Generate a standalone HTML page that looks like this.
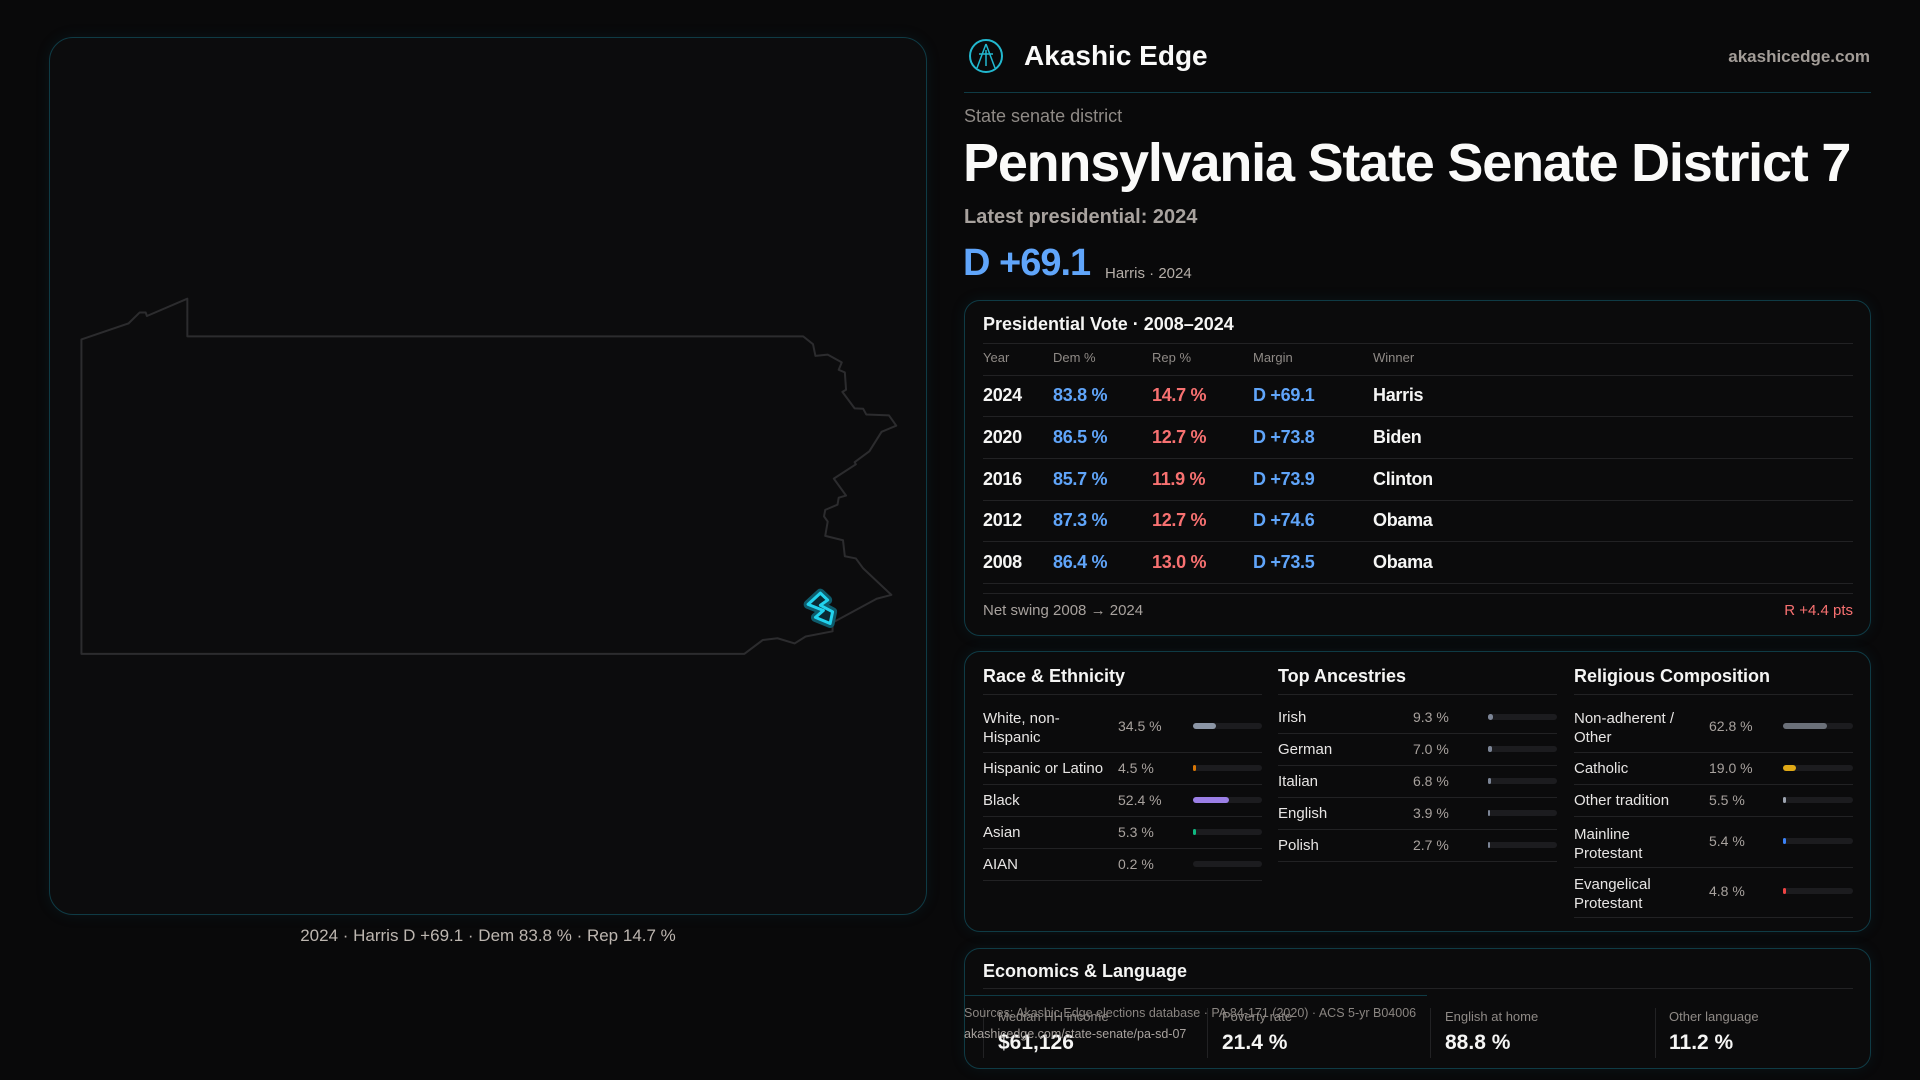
<!DOCTYPE html>
<html><head><meta charset="utf-8"><style>
*{margin:0;padding:0;box-sizing:border-box}
body{width:1920px;height:1080px;background:#09090a;font-family:"Liberation Sans",sans-serif;position:relative;overflow:hidden;color:#f5f5f4}
.t{position:absolute;white-space:nowrap;line-height:1}
.card{position:absolute;border:1px solid #0f3b45;border-radius:16px;background:#0b0b0c;box-shadow:0 0 14px rgba(20,90,110,.15)}
.hl{position:absolute;height:1px;background:#222224}
.g{color:#8f8a86}
.b{color:#60a5fa}.r{color:#f87171}
.row{font-size:18px;font-weight:bold;letter-spacing:-0.3px}
.sm{font-size:15px;color:#e7e5e4}
.v{font-size:14px;color:#a8a29e}
.bar{position:absolute;height:6px;border-radius:3px;background:#1c1c1f}
.bar i{position:absolute;left:0;top:0;height:6px;border-radius:3px}
.vs{position:absolute;width:1px;background:#222224;top:1008px;height:50px}
</style></head><body>

<div class="card" style="left:49px;top:37px;width:878px;height:878px;border-radius:24px;background:#0c0c0d"></div>
<svg width="1920" height="1080" style="position:absolute;left:0;top:0">
<g transform="translate(0,280) scale(0.6122,0.4337)">
<polygon vector-effect="non-scaling-stroke" fill="none" stroke="#2c2c2e" stroke-width="2" stroke-linejoin="round" points="133,137 210,100 228,75 238,75 240,83 306,43 306,130 1312,130 1328,148 1332,175 1352,172 1375,190 1370,207 1380,213 1382,253 1376,258 1396,296 1410,297 1415,310 1452,312 1464,336 1440,350 1420,395 1396,420 1398,425 1362,458 1382,497 1370,502 1368,518 1348,530 1346,545 1352,557 1348,590 1377,600 1380,637 1398,642 1410,665 1456,726 1432,735 1360,790 1360,810 1316,822 1298,838 1270,826 1246,830 1216,862 133,862"/>
<polygon vector-effect="non-scaling-stroke" fill="none" stroke="#0e5b6b" stroke-width="9" stroke-linejoin="round" points="1340,722 1320,748 1345,762 1332,778 1356,792 1360,765 1340,750 1352,738"/>
<polygon vector-effect="non-scaling-stroke" fill="#0b2a33" stroke="#22d3ee" stroke-width="3" stroke-linejoin="round" points="1340,722 1320,748 1345,762 1332,778 1356,792 1360,765 1340,750 1352,738"/>
</g>
<circle cx="986" cy="56" r="16" fill="none" stroke="#22b8cf" stroke-width="2"/>
<path d="M986 44 L977 68 M986 44 L995 68 M979 54 L993 54 M986 50 L986 66" stroke="#22b8cf" stroke-width="1.5" fill="none"/>
</svg>
<div class="t" style="left:0;width:976px;text-align:center;top:927px;font-size:17px;color:#bdb6b0">2024 · Harris D +69.1 · Dem 83.8 % · Rep 14.7 %</div>

<div class="t" style="left:1024px;top:42px;font-size:28px;font-weight:bold;color:#fafaf9">Akashic Edge</div>
<div class="t" style="right:50px;top:48px;font-size:17px;font-weight:bold;color:#a39d98">akashicedge.com</div>
<div class="hl" style="left:964px;top:92px;width:907px;background:#0f3b45"></div>
<div class="t g" style="left:964px;top:107px;font-size:18px">State senate district</div>
<div class="t" style="left:963px;top:136px;font-size:54px;font-weight:bold;letter-spacing:-1.2px;color:#fafaf9">Pennsylvania State Senate District 7</div>
<div class="t" style="left:964px;top:207px;font-size:20px;font-weight:bold;color:#a8a29e">Latest presidential: 2024</div>
<div class="t b" style="left:963px;top:244px;font-size:38px;font-weight:bold;letter-spacing:-1px">D +69.1</div>
<div class="t" style="left:1105px;top:266px;font-size:15px;color:#b5aea8">Harris · 2024</div>

<div class="card" style="left:964px;top:300px;width:907px;height:336px"></div>
<div class="t" style="left:983px;top:315px;font-size:18px;font-weight:bold">Presidential Vote · 2008–2024</div>
<div class="hl" style="left:983px;top:343px;width:870px"></div>
<div class="t g" style="left:983px;top:351px;font-size:13px">Year</div>
<div class="t g" style="left:1053px;top:351px;font-size:13px">Dem %</div>
<div class="t g" style="left:1152px;top:351px;font-size:13px">Rep %</div>
<div class="t g" style="left:1253px;top:351px;font-size:13px">Margin</div>
<div class="t g" style="left:1373px;top:351px;font-size:13px">Winner</div>
<div class="hl" style="left:983px;top:375px;width:870px"></div>

<div class="t row" style="left:983px;top:386px">2024</div><div class="t row b" style="left:1053px;top:386px">83.8 %</div><div class="t row r" style="left:1152px;top:386px">14.7 %</div><div class="t row b" style="left:1253px;top:386px">D +69.1</div><div class="t row" style="left:1373px;top:386px">Harris</div>
<div class="hl" style="left:983px;top:416px;width:870px"></div>
<div class="t row" style="left:983px;top:428px">2020</div><div class="t row b" style="left:1053px;top:428px">86.5 %</div><div class="t row r" style="left:1152px;top:428px">12.7 %</div><div class="t row b" style="left:1253px;top:428px">D +73.8</div><div class="t row" style="left:1373px;top:428px">Biden</div>
<div class="hl" style="left:983px;top:458px;width:870px"></div>
<div class="t row" style="left:983px;top:470px">2016</div><div class="t row b" style="left:1053px;top:470px">85.7 %</div><div class="t row r" style="left:1152px;top:470px">11.9 %</div><div class="t row b" style="left:1253px;top:470px">D +73.9</div><div class="t row" style="left:1373px;top:470px">Clinton</div>
<div class="hl" style="left:983px;top:500px;width:870px"></div>
<div class="t row" style="left:983px;top:511px">2012</div><div class="t row b" style="left:1053px;top:511px">87.3 %</div><div class="t row r" style="left:1152px;top:511px">12.7 %</div><div class="t row b" style="left:1253px;top:511px">D +74.6</div><div class="t row" style="left:1373px;top:511px">Obama</div>
<div class="hl" style="left:983px;top:541px;width:870px"></div>
<div class="t row" style="left:983px;top:553px">2008</div><div class="t row b" style="left:1053px;top:553px">86.4 %</div><div class="t row r" style="left:1152px;top:553px">13.0 %</div><div class="t row b" style="left:1253px;top:553px">D +73.5</div><div class="t row" style="left:1373px;top:553px">Obama</div>
<div class="hl" style="left:983px;top:583px;width:870px"></div>
<div class="hl" style="left:983px;top:593px;width:870px"></div>
<div class="t" style="left:983px;top:603px;font-size:15px;color:#a8a29e">Net swing 2008 → 2024</div>
<div class="t r" style="right:67px;top:603px;font-size:15px">R +4.4 pts</div>

<div class="card" style="left:964px;top:651px;width:907px;height:281px"></div>
<div class="t" style="left:983px;top:667px;font-size:18px;font-weight:bold">Race &amp; Ethnicity</div>
<div class="t" style="left:1278px;top:667px;font-size:18px;font-weight:bold">Top Ancestries</div>
<div class="t" style="left:1574px;top:667px;font-size:18px;font-weight:bold">Religious Composition</div>
<div class="hl" style="left:983px;top:694px;width:279px"></div>
<div class="hl" style="left:1278px;top:694px;width:279px"></div>
<div class="hl" style="left:1574px;top:694px;width:279px"></div>

<div class="t sm" style="left:983px;top:709px;line-height:19px">White, non-<br>Hispanic</div><div class="t v" style="left:1118px;top:719px">34.5 %</div><div class="bar" style="left:1193px;top:723px;width:69px"><i style="width:23px;background:#8b95a5"></i></div>
<div class="hl" style="left:983px;top:752px;width:279px"></div>
<div class="t sm" style="left:983px;top:761px">Hispanic or Latino</div><div class="t v" style="left:1118px;top:761px">4.5 %</div><div class="bar" style="left:1193px;top:765px;width:69px"><i style="width:3px;background:#d97706"></i></div>
<div class="hl" style="left:983px;top:784px;width:279px"></div>
<div class="t sm" style="left:983px;top:793px">Black</div><div class="t v" style="left:1118px;top:793px">52.4 %</div><div class="bar" style="left:1193px;top:797px;width:69px"><i style="width:36px;background:#9b7fe6"></i></div>
<div class="hl" style="left:983px;top:816px;width:279px"></div>
<div class="t sm" style="left:983px;top:825px">Asian</div><div class="t v" style="left:1118px;top:825px">5.3 %</div><div class="bar" style="left:1193px;top:829px;width:69px"><i style="width:3px;background:#10b981"></i></div>
<div class="hl" style="left:983px;top:848px;width:279px"></div>
<div class="t sm" style="left:983px;top:857px">AIAN</div><div class="t v" style="left:1118px;top:857px">0.2 %</div><div class="bar" style="left:1193px;top:861px;width:69px"></div>
<div class="hl" style="left:983px;top:880px;width:279px"></div>

<div class="t sm" style="left:1278px;top:710px">Irish</div><div class="t v" style="left:1413px;top:710px">9.3 %</div><div class="bar" style="left:1488px;top:714px;width:69px"><i style="width:5px;background:#7c8596"></i></div>
<div class="hl" style="left:1278px;top:733px;width:279px"></div>
<div class="t sm" style="left:1278px;top:742px">German</div><div class="t v" style="left:1413px;top:742px">7.0 %</div><div class="bar" style="left:1488px;top:746px;width:69px"><i style="width:4px;background:#7c8596"></i></div>
<div class="hl" style="left:1278px;top:765px;width:279px"></div>
<div class="t sm" style="left:1278px;top:774px">Italian</div><div class="t v" style="left:1413px;top:774px">6.8 %</div><div class="bar" style="left:1488px;top:778px;width:69px"><i style="width:3px;background:#7c8596"></i></div>
<div class="hl" style="left:1278px;top:797px;width:279px"></div>
<div class="t sm" style="left:1278px;top:806px">English</div><div class="t v" style="left:1413px;top:806px">3.9 %</div><div class="bar" style="left:1488px;top:810px;width:69px"><i style="width:2px;background:#7c8596"></i></div>
<div class="hl" style="left:1278px;top:829px;width:279px"></div>
<div class="t sm" style="left:1278px;top:838px">Polish</div><div class="t v" style="left:1413px;top:838px">2.7 %</div><div class="bar" style="left:1488px;top:842px;width:69px"><i style="width:2px;background:#7c8596"></i></div>
<div class="hl" style="left:1278px;top:861px;width:279px"></div>

<div class="t sm" style="left:1574px;top:709px;line-height:19px">Non-adherent /<br>Other</div><div class="t v" style="left:1709px;top:719px">62.8 %</div><div class="bar" style="left:1783px;top:723px;width:70px"><i style="width:44px;background:#6b7079"></i></div>
<div class="hl" style="left:1574px;top:752px;width:279px"></div>
<div class="t sm" style="left:1574px;top:761px">Catholic</div><div class="t v" style="left:1709px;top:761px">19.0 %</div><div class="bar" style="left:1783px;top:765px;width:70px"><i style="width:13px;background:#e0a916"></i></div>
<div class="hl" style="left:1574px;top:784px;width:279px"></div>
<div class="t sm" style="left:1574px;top:793px">Other tradition</div><div class="t v" style="left:1709px;top:793px">5.5 %</div><div class="bar" style="left:1783px;top:797px;width:70px"><i style="width:3px;background:#9ca3af"></i></div>
<div class="hl" style="left:1574px;top:816px;width:279px"></div>
<div class="t sm" style="left:1574px;top:825px;line-height:19px">Mainline<br>Protestant</div><div class="t v" style="left:1709px;top:834px">5.4 %</div><div class="bar" style="left:1783px;top:838px;width:70px"><i style="width:3px;background:#3b82f6"></i></div>
<div class="hl" style="left:1574px;top:867px;width:279px"></div>
<div class="t sm" style="left:1574px;top:875px;line-height:19px">Evangelical<br>Protestant</div><div class="t v" style="left:1709px;top:884px">4.8 %</div><div class="bar" style="left:1783px;top:888px;width:70px"><i style="width:3px;background:#ef4444"></i></div>
<div class="hl" style="left:1574px;top:917px;width:279px"></div>

<div class="card" style="left:964px;top:948px;width:907px;height:121px"></div>
<div class="t" style="left:983px;top:962px;font-size:18px;font-weight:bold">Economics &amp; Language</div>
<div class="hl" style="left:983px;top:988px;width:870px"></div>
<div class="hl" style="left:965px;top:995px;width:462px;background:#0f3b45"></div>
<div class="vs" style="left:983px"></div><div class="vs" style="left:1207px"></div><div class="vs" style="left:1430px"></div><div class="vs" style="left:1655px"></div>
<div class="t g" style="left:998px;top:1010px;font-size:13px">Median HH income</div>
<div class="t g" style="left:1222px;top:1010px;font-size:13px">Poverty rate</div>
<div class="t g" style="left:1445px;top:1010px;font-size:13px">English at home</div>
<div class="t g" style="left:1669px;top:1010px;font-size:13px">Other language</div>
<div class="t" style="left:998px;top:1032px;font-size:21px;font-weight:bold">$61,126</div>
<div class="t" style="left:1222px;top:1032px;font-size:21px;font-weight:bold">21.4 %</div>
<div class="t" style="left:1445px;top:1032px;font-size:21px;font-weight:bold">88.8 %</div>
<div class="t" style="left:1669px;top:1032px;font-size:21px;font-weight:bold">11.2 %</div>
<div class="t" style="left:964px;top:1007px;font-size:12.5px;color:#8a8581">Sources: Akashic Edge elections database · PA 84-171 (2020) · ACS 5-yr B04006</div>
<div class="t" style="left:964px;top:1028px;font-size:12.5px;color:#a8a29e">akashicedge.com/state-senate/pa-sd-07</div>
</body></html>
